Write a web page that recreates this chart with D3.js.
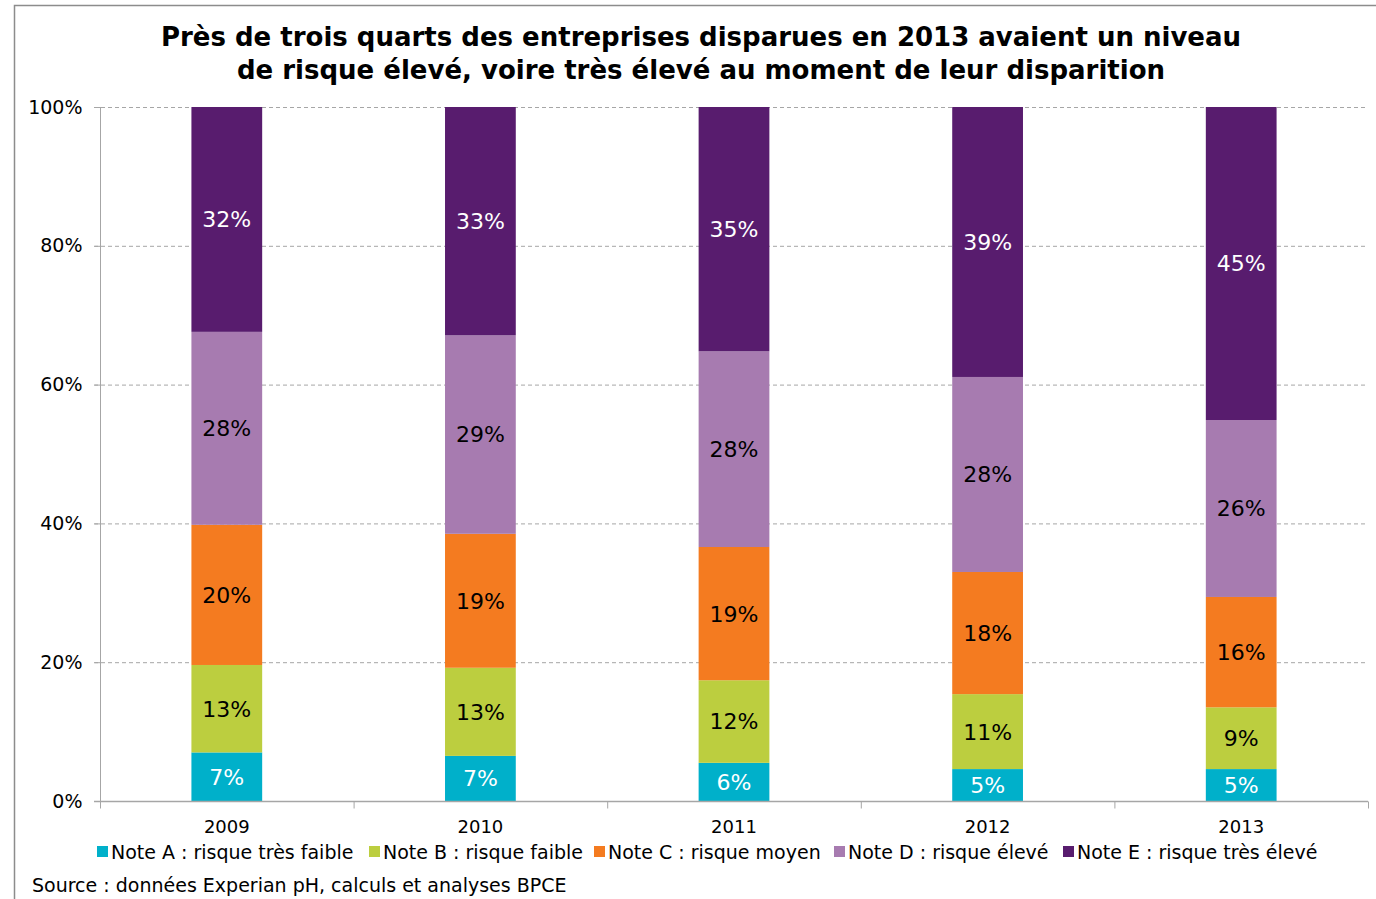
<!DOCTYPE html>
<html><head><meta charset="utf-8">
<script src="https://cdn.jsdelivr.net/npm/d3@7"></script>
<style>
html,body{margin:0;padding:0;background:#fff;}
svg{display:block;font-family:"DejaVu Sans",Verdana,sans-serif;}
</style></head>
<body>
<svg id="chart" width="1376" height="899"></svg>
<script>
const years = ["2009","2010","2011","2012","2013"];
const seriesNames = ["Note A : risque très faible","Note B : risque faible","Note C : risque moyen","Note D : risque élevé","Note E : risque très élevé"];
const noteA = [7.0, 6.5, 5.5, 4.6, 4.6];
const noteB = [12.6, 12.7, 11.9, 10.8, 8.9];
const noteC = [20.2, 19.3, 19.2, 17.6, 15.9];
const noteD = [27.8, 28.6, 28.2, 28.1, 25.5];
const noteE = [32.4, 32.9, 35.2, 38.9, 45.1];
const labelsA = ["7%","7%","6%","5%","5%"];
const labelsB = ["13%","13%","12%","11%","9%"];
const labelsC = ["20%","19%","19%","18%","16%"];
const labelsD = ["28%","29%","28%","28%","26%"];
const labelsE = ["32%","33%","35%","39%","45%"];
const yTicks = [0,20,40,60,80,100];
const titleLines = ["Près de trois quarts des entreprises disparues en 2013 avaient un niveau","de risque élevé, voire très élevé au moment de leur disparition"];
const sourceText = "Source : données Experian pH, calculs et analyses BPCE";

(function(){
const colors = ["#00B0CA","#BCCE3F","#F47B20","#A77BB0","#581C6E"];
const labelColors = ["#fff","#000","#000","#000","#fff"];

const values = [noteA,noteB,noteC,noteD,noteE];
const labels = [labelsA,labelsB,labelsC,labelsD,labelsE];
const table = years.map((yr,i)=>{const o={year:yr}; seriesNames.forEach((s,k)=>o[s]=values[k][i]); return o;});
const stacked = d3.stack().keys(seriesNames)(table);

const svg = d3.select("#chart");
const pl=100, pr=1368, pt=107, pb=801;

svg.append("rect").attr("x",14.5).attr("y",5.5).attr("width",1400).attr("height",1000)
  .attr("fill","none").attr("stroke","#8c8c8c").attr("stroke-width",1.5);

const x = d3.scaleBand().domain(years).range([pl,pr]).padding(0);
const y = d3.scaleLinear().domain([0,100]).range([pb,pt]);
const barW = x.bandwidth()*0.279;

svg.append("g").selectAll("text").data(titleLines).join("text")
  .attr("x",701).attr("y",(d,i)=>46+i*33).attr("text-anchor","middle")
  .attr("font-size",26).attr("font-weight","bold").attr("fill","#000").text(d=>d);

const g = svg.append("g");
g.selectAll("line").data(yTicks.filter(t=>t>0)).join("line")
  .attr("x1",pl-6).attr("x2",pr).attr("y1",d=>y(d)+0.5).attr("y2",d=>y(d)+0.5)
  .attr("stroke","#a6a6a6").attr("stroke-width",1).attr("stroke-dasharray","4,3");

const bars = svg.append("g");
stacked.forEach((layer,k)=>{
  bars.append("g").selectAll("rect").data(layer).join("rect")
    .attr("x",d=>x(d.data.year)+x.bandwidth()/2-barW/2)
    .attr("width",barW)
    .attr("y",d=>y(d[1]))
    .attr("height",d=>y(d[0])-y(d[1]))
    .attr("fill",colors[k]);
  bars.append("g").selectAll("text").data(layer).join("text")
    .attr("x",d=>x(d.data.year)+x.bandwidth()/2)
    .attr("y",d=>(y(d[0])+y(d[1]))/2)
    .attr("dy","0.36em")
    .attr("text-anchor","middle").attr("font-size",22).attr("fill",labelColors[k])
    .text((d,i)=>labels[k][i]);
});

const yAxis = d3.axisLeft(y).tickValues(yTicks).tickFormat(d=>d+"%").tickSize(6).tickPadding(12);
const ya = svg.append("g").attr("transform",`translate(${pl+0.5},0)`).call(yAxis);
ya.select(".domain").attr("stroke","#a6a6a6").attr("d",`M0,${pt}V${pb}`);
ya.selectAll(".tick line").attr("stroke","#a6a6a6");
ya.selectAll(".tick text").attr("font-size",19).attr("fill","#000").attr("font-family","DejaVu Sans");

const xa = svg.append("g").attr("transform",`translate(0,${pb+0.5})`);
xa.append("line").attr("x1",pl-6).attr("x2",pr).attr("y1",0).attr("y2",0).attr("stroke","#a6a6a6").attr("stroke-width",1.5);
const bounds = years.map(yr=>x(yr)).concat([pr]);
xa.selectAll("line.t").data(bounds).join("line").attr("class","t")
  .attr("x1",d=>d+0.5).attr("x2",d=>d+0.5).attr("y1",0).attr("y2",7).attr("stroke","#a6a6a6");
xa.selectAll("text").data(years).join("text")
  .attr("x",d=>x(d)+x.bandwidth()/2).attr("y",31).attr("text-anchor","middle")
  .attr("font-size",18).attr("fill","#000").text(d=>d);

const legX = [97,369,594,834,1063];
const leg = svg.append("g");
seriesNames.forEach((s,k)=>{
  leg.append("rect").attr("x",legX[k]).attr("y",846).attr("width",11).attr("height",11).attr("fill",colors[k]);
  leg.append("text").attr("x",legX[k]+14).attr("y",859).attr("font-size",19).attr("fill","#000").text(s);
});

svg.append("text").attr("x",32).attr("y",892).attr("font-size",19).attr("fill","#000").text(sourceText);
})();
</script>
</body></html>
